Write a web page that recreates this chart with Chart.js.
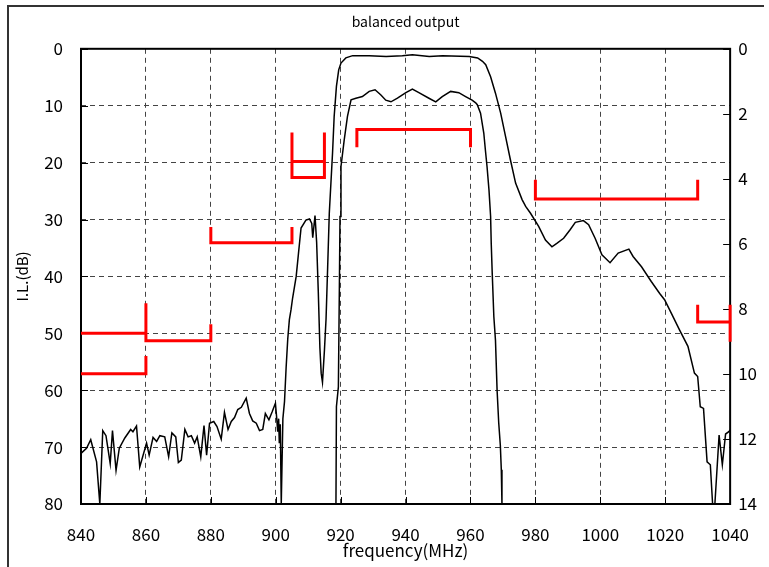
<!DOCTYPE html>
<html>
<head>
<meta charset="utf-8">
<script src="https://cdn.jsdelivr.net/npm/chart.js@4.4.1/dist/chart.umd.min.js"></script>
<style>
html, body { margin: 0; padding: 0; background: #fff; }
canvas { display: block; }
</style>
</head>
<body>
<canvas id="myChart" width="769" height="567"></canvas>
<script>
// wide-band response, left axis (dB)
const freqA = [840.0, 841.7, 843.0, 844.8, 845.8, 846.7, 847.7, 849.0, 849.7, 850.8, 851.8, 853.5, 855.3, 856.0, 857.1, 858.1,
    860.2, 861.0, 862.2, 863.3, 864.3, 865.8, 867.0, 868.0, 869.2, 870.0, 870.9, 872.0, 873.0, 874.0, 875.0, 875.8, 876.9,
    877.9, 878.7, 879.6, 880.9, 881.9, 883.2, 884.2, 885.3, 886.3, 887.3, 888.3, 889.4, 890.9, 891.9, 892.9, 894.0, 895.0,
    896.0, 896.8, 897.9, 898.9, 899.9, 900.3, 900.6, 900.9, 901.1, 901.4, 901.7, 902.2, 902.7, 903.2, 903.7, 904.2, 904.7,
    905.2, 906.3, 907.0, 907.8, 909.3, 910.4, 911.1, 911.4, 912.1, 912.6, 913.1, 913.6, 914.0, 914.4, 915.0, 915.5, 916.0,
    916.5, 917.5, 918.0, 918.7, 919.4, 920.1, 921.6, 923.7, 928.8, 934.0, 939.0, 942.1, 947.3, 951.4, 959.6, 962.2, 963.7,
    964.7, 966.2, 967.7, 969.3, 970.8, 972.3, 973.9, 975.9, 977.0, 978.5, 981.0, 983.1, 985.1, 986.6, 988.7, 990.7, 992.3,
    994.8, 996.4, 998.4, 1000.5, 1003.0, 1005.5, 1008.8, 1010.1, 1012.7, 1015.7, 1018.3, 1019.8, 1021.9, 1024.4, 1027.0,
    1029.0, 1030.0, 1030.8, 1031.8, 1032.9, 1033.9, 1034.6, 1035.3, 1036.6, 1037.6, 1038.6, 1039.6, 1040.0];
const lossA = [71.1, 70.2, 68.7, 72.6, 80, 67.1, 68.0, 72.9, 67.1, 74.1, 70.2, 68.4, 66.9, 67.3, 66.3, 73.5,
    69.3, 71.4, 68.3, 69.0, 68.0, 68.2, 71.7, 67.5, 68.2, 72.7, 72.3, 66.9, 68.2, 68.0, 69.3, 68.2, 71.7,
    66.2, 71.4, 65.8, 65.5, 66.4, 68.6, 63.9, 66.9, 65.5, 64.8, 63.4, 63.0, 61.4, 64.1, 65.4, 65.8, 67.1,
    66.9, 64.1, 65.2, 63.8, 62.3, 64.9, 67.3, 65.0, 69.3, 66.0, 80, 65.0, 62.0, 56.0, 51.0, 47.6, 45.9,
    43.8, 40.0, 36.0, 31.5, 30.1, 29.9, 30.7, 33.2, 29.3, 34.0, 42.5, 52.5, 57.0, 58.6, 53.0, 47.5, 38.3,
    28.9, 18.3, 11.9, 6.6, 3.7, 2.5, 1.6, 1.2, 1.2, 1.35, 1.2, 1.05, 1.35, 1.2, 1.35, 1.6, 2.2,
    2.8, 4.9, 7.8, 11.3, 15.4, 19.5, 23.6, 26.5, 27.7, 28.9, 31.2, 33.6, 34.8, 34.2, 33.3, 31.8, 30.5,
    30.2, 30.9, 33.3, 36.2, 37.6, 35.9, 35.2, 36.5, 38.3, 40.9, 43.0, 44.1, 46.5, 49.4, 52.3,
    57.0, 57.6, 62.9, 63.2, 72.6, 73.1, 80, 80, 67.9, 73.1, 67.7, 67.3, 67.0];

// passband detail, right axis (dB)
const freqB = [918.55, 918.7, 919.3, 919.6, 919.8, 920.1, 921.1, 922.1, 923.2, 924.7, 926.7, 928.8, 930.6, 932.4, 933.9,
    935.5, 937.5, 940.1, 942.1, 944.1, 947.2, 949.3, 951.3, 953.9, 956.4, 958.5, 960.5, 961.6, 962.1, 963.1, 964.1,
    964.6, 965.1, 965.7, 966.2, 966.4, 966.7, 967.2, 967.7, 968.2, 968.7, 969.2, 969.5, 969.7];
const lossB = [14.0, 11.0, 10.4, 7.4, 5.16, 3.62, 2.8, 2.08, 1.57, 1.52, 1.47, 1.31, 1.26, 1.42, 1.58,
    1.63, 1.52, 1.35, 1.24, 1.35, 1.52, 1.63, 1.47, 1.31, 1.35, 1.47, 1.58, 1.66, 1.72, 1.98, 2.59,
    3.12, 3.62, 4.34, 5.16, 6.0, 6.9, 8.24, 8.96, 10.5, 11.5, 12.2, 12.95, 14.0];

// spec mask (left axis dB)
const specLines = [
    { f: [840, 860], il: [50, 50] },
    { f: [860, 860, 880, 880], il: [44.7, 51.3, 51.3, 48.4] },
    { f: [840, 860, 860], il: [57.1, 57.1, 54] },
    { f: [880, 880, 905, 905], il: [31.3, 34.1, 34.1, 31.3] },
    { f: [905, 905, 915, 915], il: [14.7, 22.6, 22.6, 14.7] },
    { f: [905, 915], il: [19.8, 19.8] },
    { f: [925, 925, 960, 960], il: [17.3, 14.2, 14.2, 17.3] },
    { f: [980, 980, 1030, 1030], il: [23, 26.4, 26.4, 23] },
    { f: [1030, 1030, 1040], il: [45, 48, 48] },
    { f: [1040, 1040], il: [45, 51.5] }
];

const FONT = '"Noto Sans CJK JP", "Noto Sans", sans-serif';

function toPoints(xs, ys) {
    return xs.map((x, i) => ({ x: x, y: ys[i] }));
}

const frame = {
    id: 'frame',
    beforeDraw(chart) {
        const ctx = chart.ctx;
        ctx.save();
        ctx.strokeStyle = '#333';
        ctx.lineWidth = 2;
        ctx.beginPath();
        ctx.moveTo(8, 567);
        ctx.lineTo(8, 6);
        ctx.lineTo(764, 6);
        ctx.stroke();
        ctx.restore();
    },
    beforeDatasetsDraw(chart) {
        const { ctx, chartArea: a, scales } = chart;
        ctx.save();
        ctx.strokeStyle = '#000';
        ctx.lineWidth = 2;
        ctx.strokeRect(a.left, a.top, a.right - a.left, a.bottom - a.top);
        ctx.lineWidth = 1;
        ctx.beginPath();
        for (const t of scales.y.ticks) {
            const py = Math.round(scales.y.getPixelForValue(t.value)) + 0.5;
            ctx.moveTo(a.left, py); ctx.lineTo(a.left + 7, py);
        }
        for (const t of scales.y2.ticks) {
            const py = Math.round(scales.y2.getPixelForValue(t.value)) + 0.5;
            ctx.moveTo(a.right, py); ctx.lineTo(a.right - 7, py);
        }
        for (const t of scales.x.ticks) {
            const px = Math.round(scales.x.getPixelForValue(t.value)) + 0.5;
            ctx.moveTo(px, a.bottom); ctx.lineTo(px, a.bottom - 7);
        }
        ctx.stroke();
        ctx.restore();
    }
};

let datasets = [
    { data: toPoints(freqA, lossA), yAxisID: 'y', borderColor: '#000', borderWidth: 1.5 },
    { data: toPoints(freqB, lossB), yAxisID: 'y2', borderColor: '#000', borderWidth: 1.5 }
];
for (const s of specLines) {
    datasets.push({ data: toPoints(s.f, s.il), yAxisID: 'y', borderColor: '#ff0000', borderWidth: 3, clip: 4 });
}
for (const d of datasets) {
    d.pointRadius = 0;
    d.tension = 0;
    d.fill = false;
    d.borderCapStyle = 'butt';
}

const gridStyle = { color: '#444', lineWidth: 1, drawTicks: false };
const borderStyle = { display: false, dash: [5, 4] };

new Chart(document.getElementById('myChart'), {
    type: 'line',
    data: { datasets: datasets },
    plugins: [frame],
    options: {
        responsive: false,
        animation: false,
        devicePixelRatio: 1,
        layout: { padding: 0 },
        plugins: {
            legend: { display: false },
            tooltip: { enabled: false },
            title: {
                display: true,
                fullSize: false,
                text: 'balanced output',
                color: '#000',
                font: { family: FONT, size: 14, weight: 'normal' },
                padding: { top: 13, bottom: 19 }
            }
        },
        scales: {
            x: {
                type: 'linear',
                min: 840, max: 1040,
                afterFit: s => { s.height = 63; },
                ticks: { stepSize: 20, color: '#000', padding: 20, font: { family: FONT, size: 17 },
                    callback: v => String(v) },
                grid: gridStyle,
                border: borderStyle,
                title: { display: true, text: 'frequency(MHz)', color: '#000', font: { family: FONT, size: 17 }, padding: { bottom: 6 } }
            },
            y: {
                position: 'left',
                reverse: true,
                min: 0, max: 80,
                afterFit: s => { s.width = 81; },
                ticks: { stepSize: 10, color: '#000', padding: 18, font: { family: FONT, size: 17 } },
                grid: gridStyle,
                border: borderStyle,
                title: { display: true, text: 'I.L.(dB)', color: '#000', font: { family: FONT, size: 15 }, padding: { top: 13 } }
            },
            y2: {
                position: 'right',
                reverse: true,
                min: 0, max: 14,
                afterFit: s => { s.width = 37; },
                ticks: { stepSize: 2, color: '#000', padding: 8, font: { family: FONT, size: 17 } },
                grid: { drawOnChartArea: false, drawTicks: false },
                border: { display: false }
            }
        }
    }
});
</script>
</body>
</html>
